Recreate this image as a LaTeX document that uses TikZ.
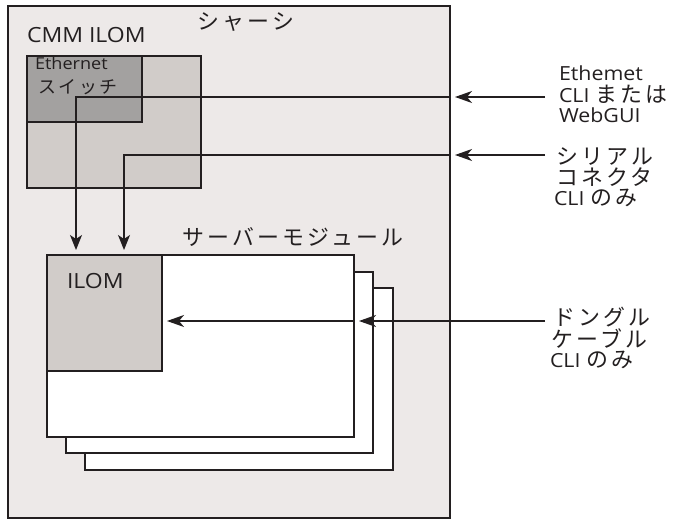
\documentclass[tikz,border=0pt]{standalone}
\usepackage{fontspec}
\setmainfont{Open Sans}[FakeStretch=1.1]
\newfontfamily\jpf[LetterSpace=15]{Noto Sans CJK JP}
\usetikzlibrary{arrows.meta}
\definecolor{lc}{HTML}{231F20}
\definecolor{chfill}{HTML}{EDE9E8}
\definecolor{midfill}{HTML}{D1CCC9}
\definecolor{darkfill}{HTML}{A3A1A0}
\newcommand\jp[1]{{\jpf\fontsize{22}{24}\selectfont #1}}
\tikzset{
  box/.style={draw=lc, line width=1.6bp, inner sep=0pt, outer sep=0pt, anchor=north west},
  conn/.style={draw=lc, line width=1.4bp},
  arr/.style={conn, -{Stealth[length=17bp,width=12bp,inset=5bp]}},
  darr/.style={conn, -{Stealth[length=15bp,width=12bp,inset=4bp]}},
  txt/.style={inner sep=0pt, outer sep=0pt, text=lc, font=\fontsize{19.5}{22}\selectfont},
  small/.style={txt, font=\fontsize{16.5}{20}\selectfont},
  big/.style={txt, font=\fontsize{21}{24}\selectfont},
}
\begin{document}
\begin{tikzpicture}[x=1bp,y=-1bp]
\useasboundingbox (0,0) rectangle (673,520);
% boxes
\node (chassis) [box, fill=chfill, minimum width=442bp, minimum height=512bp] at (8,6) {};
\node (cmm) [box, fill=midfill, minimum width=174bp, minimum height=132bp] at (27,56) {};
\node (switch) [box, fill=darkfill, minimum width=115bp, minimum height=66bp] at (27,56) {};
\node (srv3) [box, fill=white, minimum width=308bp, minimum height=182bp] at (85,288) {};
\node (srv2) [box, fill=white, minimum width=307bp, minimum height=181bp] at (66,272) {};
\node (srv1) [box, fill=white, minimum width=307bp, minimum height=182bp] at (47,255) {};
\node (ilom) [box, fill=midfill, minimum width=115bp, minimum height=116bp] at (47,255) {};
% labels
\node (chlbl) [txt] at (246,22) {\jp{シャーシ}};
\node (cmmlbl) [big, anchor=base west] at (27,43) {CMM ILOM};
\node (swlbl1) [small, anchor=base west] at (35,70) {Ethernet};
\node (swlbl2) [txt] at (78,87) {{\jpf\fontsize{18}{20}\selectfont スイッチ}};
\node (srvlbl) [txt] at (293,237) {\jp{サーバーモジュール}};
\node (ilomlbl) [big, anchor=base west] at (67,288) {ILOM};
\node (eth1) [txt, anchor=base west] at (559,81) {Ethemet};
\node (eth2) [txt, anchor=base west] at (559,103) {CLI \jp{または}};
\node (eth3) [txt, anchor=base west] at (559,123) {WebGUI};
\node (ser1) [txt, anchor=base west] at (556,165) {\jp{シリアル}};
\node (ser2) [txt, anchor=base west] at (556,186) {\jp{コネクタ}};
\node (ser3) [txt, anchor=base west] at (554,206) {CLI \jp{のみ}};
\node (dng1) [txt, anchor=base west] at (553,325) {\jp{ドングル}};
\node (dng2) [txt, anchor=base west] at (551,347) {\jp{ケーブル}};
\node (dng3) [txt, anchor=base west] at (550,367) {CLI \jp{のみ}};
% connector end points
\coordinate (ethout) at (545,97);
\coordinate (ethin) at (450,97);
\coordinate (serout) at (545,155);
\coordinate (serin) at (450,155);
\coordinate (ethdown) at (76,250);
\coordinate (serdown) at (124,250);
\coordinate (dngout) at (545,321);
\coordinate (dngmid) at (354,321);
% connectors
\draw[arr] (ethout) -- ([xshift=5bp]ethin);
\draw[arr] (serout) -- ([xshift=5bp]serin);
\draw[darr] (ethin) -| (ethdown);
\draw[darr] (serin) -| (serdown);
\draw[arr] (dngout) -- ([xshift=5bp]dngmid);
\draw[arr] (dngmid) -- ([xshift=5bp]ilom.east |- dngmid);
\end{tikzpicture}
\end{document}
